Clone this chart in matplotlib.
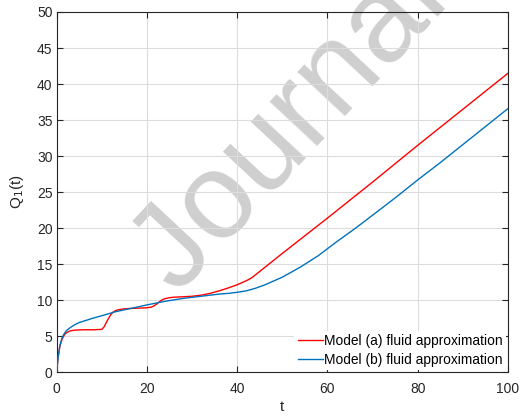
import matplotlib
matplotlib.use("Agg")
import matplotlib.pyplot as plt

plt.rcParams['font.family'] = ['Liberation Sans', 'DejaVu Sans']

# Model (a) fluid approximation
t_a = [0, 0.3, 0.7, 1.2, 1.7, 2.2, 3, 4, 6, 8, 10, 10.5, 11, 11.5, 12, 12.5, 13,
       13.5, 14, 15, 16, 18, 20, 21, 21.5, 22, 22.5, 23, 23.5, 24, 25, 26, 28,
       30, 32, 34, 36, 38, 40, 42, 43.2, 50, 60, 70, 80, 90, 100]
q_a = [0, 2.0, 3.6, 4.6, 5.2, 5.5, 5.75, 5.85, 5.9, 5.9, 5.95, 6.3, 6.9, 7.5,
       8.0, 8.35, 8.55, 8.65, 8.72, 8.8, 8.85, 8.9, 8.95, 9.05, 9.2, 9.4, 9.65,
       9.9, 10.1, 10.22, 10.35, 10.42, 10.48, 10.55, 10.7, 10.95, 11.3, 11.7,
       12.15, 12.7, 13.1, 16.5, 21.4, 26.4, 31.5, 36.5, 41.5]

# Model (b) fluid approximation
t_b = [0, 0.3, 0.7, 1.2, 1.7, 2.2, 3, 4, 5, 6, 8, 10, 13, 16, 20, 24, 28, 32,
       36, 38, 40, 42, 44, 46, 48, 50, 54, 58, 62, 66, 70, 75, 80, 85, 90, 95, 100]
q_b = [0, 2.0, 3.7, 4.8, 5.4, 5.8, 6.2, 6.6, 6.9, 7.1, 7.5, 7.85, 8.4, 8.8,
       9.35, 9.85, 10.25, 10.55, 10.85, 10.95, 11.1, 11.3, 11.65, 12.1, 12.65,
       13.2, 14.6, 16.2, 18.1, 19.9, 21.8, 24.2, 26.7, 29.1, 31.6, 34.1, 36.6]

labels = ["Model (a) fluid approximation", "Model (b) fluid approximation"]
x_ticks = [0, 20, 40, 60, 80, 100]
y_ticks = [0, 5, 10, 15, 20, 25, 30, 35, 40, 45, 50]

fig = plt.figure(figsize=(5.22, 4.19), dpi=100)
ax = fig.add_axes([0.1086, 0.1115, 0.8646, 0.8599])
ax.set_facecolor('none')

ax.plot(t_a, q_a, color='#ff0000', lw=1.0, label=labels[0], zorder=3)
ax.plot(t_b, q_b, color='#0072BD', lw=1.0, label=labels[1], zorder=3)

ax.set_xlim(0, 100)
ax.set_ylim(0, 50)
ax.set_xticks(x_ticks)
ax.set_yticks(y_ticks)
ax.grid(True, color='#dcdcdc', lw=0.8)
ax.set_axisbelow(True)
for s in ax.spines.values():
    s.set_color('#262626')
    s.set_linewidth(0.8)
ax.tick_params(direction='in', top=True, right=True, length=4, width=0.8,
               colors='#262626', labelsize=10, labelcolor='#262626', pad=3)
ax.tick_params(axis='x', pad=7)
ax.set_xlabel('t', fontsize=11, color='#262626', labelpad=3)
ax.set_ylabel('Q$_1$(t)', fontsize=11, color='#262626', labelpad=8)

leg = ax.legend(loc='lower right', fontsize=9.9, frameon=True, fancybox=False,
                facecolor='white', edgecolor='none', framealpha=1.0,
                handlelength=1.85, borderaxespad=0.15,
                labelspacing=0.35, handletextpad=0.05, borderpad=0.25)

# "Journal Pre-proof" watermark, drawn beneath the axes content
fig.text(178 / 522, 1 - 296 / 419, 'Journal Pre-proof', fontsize=88,
         color='#cfcfcf', rotation=47, rotation_mode='anchor',
         ha='left', va='baseline', zorder=-1)

fig.savefig('out.png', dpi=100)
